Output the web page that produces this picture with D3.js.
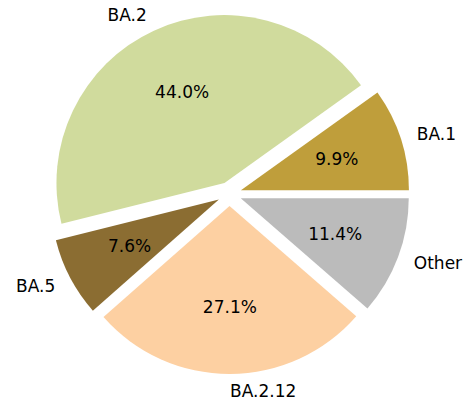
<!DOCTYPE html>
<html>
<head>
<meta charset="utf-8">
<script src="https://cdn.jsdelivr.net/npm/d3@7"></script>
<style>
  body { margin: 0; background: #fff; }
  text { font-family: "DejaVu Sans", sans-serif; font-size: 17px; fill: #000; }
</style>
</head>
<body>
<div id="chart"></div>
<script>
'use strict';

var labels = ["BA.1", "BA.2", "BA.5", "BA.2.12", "Other"];
var shares = [9.9, 44.0, 7.6, 27.1, 11.4];
var colors = ["#bf9e3b", "#d0db9d", "#8b6d32", "#fdd0a2", "#bbbbbb"];

var cw = 471, ch = 402;
var cx = 229.5, cy = 194;
var radius = 168;
var explode = 12;

var svg = d3.select("#chart").append("svg")
    .attr("width", cw)
    .attr("height", ch);

var g = svg.append("g")
    .attr("transform", "translate(" + cx + "," + cy + ")");

// start at 3 o'clock and go counterclockwise, like matplotlib
var pie = d3.pie()
    .sort(null)
    .startAngle(Math.PI / 2)
    .endAngle(Math.PI / 2 - 2 * Math.PI)
    .value(function(d) { return d; });

var arc = d3.arc()
    .innerRadius(0)
    .outerRadius(radius);

var arcs = pie(shares);

function mid(d) { return (d.startAngle + d.endAngle) / 2; }
function offset(d, dist) {
    var m = mid(d);
    return [Math.sin(m) * dist, -Math.cos(m) * dist];
}

var slice = g.selectAll(".arc")
    .data(arcs)
    .enter().append("g")
    .attr("class", "arc")
    .attr("transform", function(d) { return "translate(" + offset(d, explode) + ")"; });

slice.append("path")
    .attr("d", arc)
    .style("fill", function(d, i) { return colors[i]; });

// percentage inside
slice.append("text")
    .attr("transform", function(d) { return "translate(" + offset(d, radius * 0.6) + ")"; })
    .attr("text-anchor", "middle")
    .attr("dominant-baseline", "central")
    .text(function(d) { return d.value.toFixed(1) + "%"; });

// category label outside
slice.append("text")
    .attr("transform", function(d) { return "translate(" + offset(d, radius * 1.1) + ")"; })
    .attr("text-anchor", function(d) { return Math.sin(mid(d)) > 0 ? "start" : "end"; })
    .attr("dominant-baseline", "central")
    .text(function(d, i) { return labels[i]; });
</script>
</body>
</html>
